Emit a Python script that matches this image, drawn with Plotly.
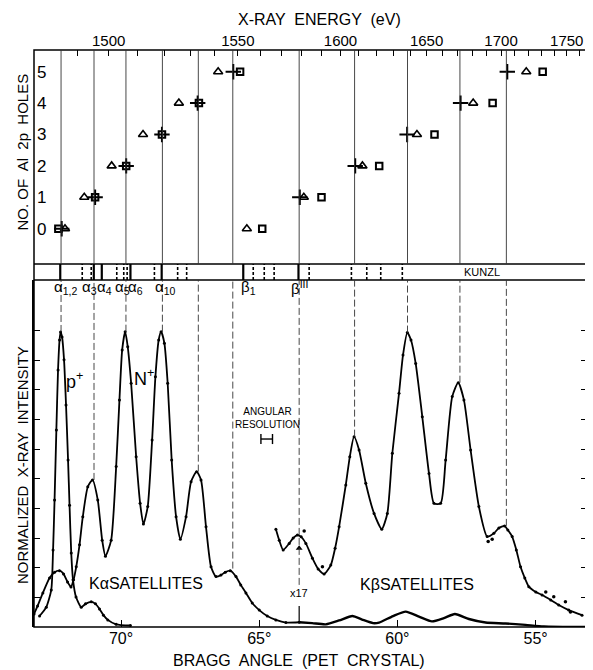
import numpy as np
import plotly.graph_objects as go

# ---------------- data ----------------
K_EV = 1413.5  # hc/2d (eV) for the PET crystal calibration used on the top axis

# Top panel: number of Al 2p holes vs X-ray energy (eV)
plus_holes = [0, 1, 2, 3, 4, 5, 1, 2, 3, 4, 5]
plus_E = [1485, 1495.5, 1506, 1519, 1533, 1548, 1579, 1608, 1638, 1672, 1704.5]
tri_holes = [0, 1, 2, 3, 4, 5, 0, 1, 2, 3, 4, 5]
tri_E = [1486, 1492, 1501, 1512, 1525.5, 1541.5, 1554, 1581, 1612, 1644, 1680.5, 1718.5]
sq_holes = [0, 1, 2, 3, 4, 5, 0, 1, 2, 3, 4, 5]
sq_E = [1484, 1495.5, 1506, 1519, 1533.5, 1551, 1561, 1590, 1621.5, 1655, 1694, 1731]

energy_ticks = list(range(1480, 1770, 10))
energy_labels = [1500, 1550, 1600, 1650, 1700, 1750]

# Bottom panel: Bragg angle (deg) vs normalized intensity
nplus_theta = [73.147, 73.020, 72.829, 72.587, 72.406, 72.225, 72.081, 71.936, 71.810, 71.720,
               71.622, 71.503, 71.384, 71.203, 71.033, 70.842, 70.683, 70.564, 70.358, 70.177,
               70.058, 69.960, 69.852, 69.758, 69.635, 69.454, 69.310, 69.191, 69.035, 68.876,
               68.757, 68.638, 68.551, 68.432, 68.313, 68.168, 68.009, 67.854, 67.648, 67.467,
               67.265, 67.106, 66.926, 66.745, 66.564, 66.384, 66.228, 66.048, 65.842, 65.668,
               65.481, 65.253, 65.000, 64.711, 64.397, 64.035, 63.555]
nplus_I = [0.44, 0.71, 1.15, 1.65, 1.85, 1.90, 1.79, 1.52, 1.35, 1.59,
           2.03, 2.77, 3.72, 4.73, 4.96, 4.28, 2.93, 2.39, 2.93, 5.41,
           7.66, 9.34, 9.96, 9.45, 8.22, 5.74, 4.17, 3.47, 4.06, 6.31,
           8.44, 9.68, 9.96, 9.57, 8.22, 5.63, 3.72, 2.96, 3.72, 4.90,
           5.24, 4.96, 3.38, 2.03, 1.70, 1.75, 1.85, 1.90, 1.70, 1.42,
           1.15, 0.81, 0.57, 0.37, 0.24, 0.15, 0.16]

kbeta_low_theta = [63.555, 63.085, 62.590, 62.110, 61.629, 61.279, 60.882, 60.665, 60.159,
                   59.700, 59.220, 58.750, 58.317, 57.920, 57.413, 56.810, 56.088, 55.365,
                   54.704, 53.187]
kbeta_low_I = [0.16, 0.13, 0.09, 0.22, 0.37, 0.25, 0.13, 0.15, 0.37,
               0.52, 0.35, 0.19, 0.30, 0.44, 0.27, 0.15, 0.12, 0.07,
               0.02, 0.0]

pplus_theta = [72.948, 72.706, 72.525, 72.460, 72.406, 72.341, 72.280, 72.225, 72.189, 72.135,
               72.063, 71.991, 71.918, 71.864, 71.803, 71.738, 71.629, 71.441, 71.286, 71.080,
               70.925, 70.780, 70.636, 70.480, 70.177, 69.660]
pplus_I = [0.37, 0.67, 1.25, 2.60, 4.28, 6.64, 8.67, 9.68, 9.95, 9.78,
           9.01, 7.49, 5.63, 4.11, 2.50, 1.59, 1.01, 0.67, 0.78, 0.85,
           0.78, 0.61, 0.40, 0.24, 0.09, 0.05]

x17_theta = [64.397, 64.277, 64.133, 63.916, 63.772, 63.617, 63.483, 63.313, 63.074, 62.869,
             62.652, 62.410, 62.254, 62.110, 61.868, 61.723, 61.568, 61.387, 61.145, 60.845,
             60.567, 60.365, 60.184, 59.942, 59.798, 59.642, 59.509, 59.339, 59.100, 58.858,
             58.678, 58.436, 58.255, 58.017, 57.800, 57.594, 57.352, 57.052, 56.752, 56.510,
             56.329, 56.123, 56.004, 55.848, 55.697, 55.545, 55.390, 55.245, 54.993, 54.765,
             54.451, 54.162, 53.801, 53.320]
x17_I = [3.30, 2.93, 2.60, 2.82, 3.00, 3.10, 3.04, 2.82, 2.32, 1.96,
         1.79, 2.09, 2.66, 3.38, 4.79, 5.74, 6.42, 5.97, 4.85, 3.83,
         3.30, 3.83, 5.86, 7.88, 9.17, 9.93, 9.68, 8.89, 7.09, 5.18,
         4.17, 4.17, 5.63, 7.77, 8.24, 7.66, 5.97, 4.06, 3.05, 3.16,
         3.34, 3.41, 3.27, 3.05, 2.60, 2.03, 1.65, 1.36, 1.18, 1.08,
         0.91, 0.74, 0.57, 0.40]

x17_scatter_theta = [63.374, 62.713, 56.716, 56.571, 54.632, 54.343, 53.921, 53.740]
x17_scatter_I = [3.24, 2.03, 2.88, 2.96, 1.18, 1.02, 0.85, 0.51]

# measured peak positions (vertical guide lines) and the height where they stop
peak_theta = [72.171, 70.979, 69.823, 68.504, 67.204, 65.957, 61.550, 59.635, 57.738, 56.058]
peak_stop_I = [9.95, 4.96, 9.96, 9.96, 5.24, 1.97, 6.42, 9.93, 8.24, 3.41]
x17_line_theta = 63.555

# Kunzl band: theoretical line positions
kunzl_solid = [72.200, 70.986, 70.697, 69.660, 68.530, 65.578, 63.580]
kunzl_dashed = [71.405, 71.080, 70.155, 69.902, 69.780, 68.793, 67.952, 67.626, 65.217,
                64.819, 64.461, 63.194, 61.665, 61.109, 60.603, 59.823]
band_label_text = ['α<sub>1,2</sub>', 'α<sub>3</sub>', 'α<sub>4</sub>', 'α<sub>5</sub>',
                   'α<sub>6</sub>', 'α<sub>10</sub>', 'β<sub>1</sub>', 'β<sup>III</sup>']
band_label_theta = [72.489, 71.503, 70.961, 70.300, 69.816, 68.855, 65.748, 63.916]

angle_ticks = [70, 65, 60, 55]

# ---------------- helpers ----------------
def e2theta(E):
    return np.degrees(np.arcsin(K_EV / np.asarray(E, dtype=float)))

FONT = "Liberation Sans"
X_RANGE = [73.15, 53.14]
Y_RANGE = [0, 11.703]
Y2_RANGE = [-1.124, 5.691]
BOT_TOP = 0.60139
BAND_TOP = 0.62912

fig = go.Figure()

# top panel markers
fig.add_trace(go.Scatter(x=e2theta(tri_E), y=tri_holes, xaxis='x2', yaxis='y2', mode='markers',
                         marker=dict(symbol='triangle-up-open', size=8, color='black',
                                     line=dict(width=1.6, color='black'))))
fig.add_trace(go.Scatter(x=e2theta(sq_E), y=sq_holes, xaxis='x2', yaxis='y2', mode='markers',
                         marker=dict(symbol='square-open', size=6.5, color='black',
                                     line=dict(width=2, color='black'))))
fig.add_trace(go.Scatter(x=e2theta(plus_E), y=plus_holes, xaxis='x2', yaxis='y2', mode='markers',
                         marker=dict(symbol='cross-thin', size=11, color='black',
                                     line=dict(width=2, color='black'))))

# bottom panel curves
fig.add_trace(go.Scatter(x=nplus_theta, y=nplus_I, mode='lines+markers',
                         line=dict(color='black', width=1.8, shape='spline', smoothing=0.6),
                         marker=dict(size=3, color='black')))
fig.add_trace(go.Scatter(x=kbeta_low_theta, y=kbeta_low_I, mode='lines',
                         line=dict(color='black', width=2.4, shape='spline', smoothing=0.6)))
fig.add_trace(go.Scatter(x=pplus_theta, y=pplus_I, mode='lines+markers',
                         line=dict(color='black', width=1.8, shape='spline', smoothing=0.6),
                         marker=dict(size=3, color='black')))
fig.add_trace(go.Scatter(x=x17_theta, y=x17_I, mode='lines+markers',
                         line=dict(color='black', width=1.8, shape='spline', smoothing=0.6),
                         marker=dict(size=3, color='black')))
fig.add_trace(go.Scatter(x=x17_scatter_theta, y=x17_scatter_I, mode='markers',
                         marker=dict(size=3.5, color='black')))
fig.add_trace(go.Scatter(x=[x17_line_theta], y=[2.66], mode='markers',
                         marker=dict(symbol='triangle-up', size=6, color='black')))

shapes = []
# frame and band
shapes.append(dict(type='rect', xref='paper', yref='paper', x0=0, x1=1, y0=0, y1=1,
                   line=dict(color='black', width=1.5)))
for yy in (BOT_TOP, BAND_TOP):
    shapes.append(dict(type='line', xref='paper', yref='paper', x0=0, x1=1, y0=yy, y1=yy,
                       line=dict(color='black', width=1.5)))
for t in kunzl_solid:
    shapes.append(dict(type='line', xref='x', yref='paper', x0=t, x1=t, y0=BOT_TOP, y1=BAND_TOP,
                       line=dict(color='black', width=2.2)))
for t in kunzl_dashed:
    shapes.append(dict(type='line', xref='x', yref='paper', x0=t, x1=t, y0=BOT_TOP, y1=BAND_TOP,
                       line=dict(color='black', width=1.6, dash='3px,2px')))
# guide lines in the top panel
for t in peak_theta + [x17_line_theta]:
    shapes.append(dict(type='line', xref='x2', yref='y2', x0=t, x1=t, y0=Y2_RANGE[0], y1=Y2_RANGE[1],
                       line=dict(color='#333', width=0.9)))
# guide lines in the bottom panel
for t, s in zip(peak_theta, peak_stop_I):
    shapes.append(dict(type='line', xref='x', yref='y', x0=t, x1=t, y0=s, y1=Y_RANGE[1],
                       line=dict(color='#333', width=0.9, dash='7px,3px')))
shapes.append(dict(type='line', xref='x', yref='y', x0=x17_line_theta, x1=x17_line_theta,
                   y0=1.42, y1=Y_RANGE[1], line=dict(color='#333', width=0.9, dash='7px,3px')))
shapes.append(dict(type='line', xref='x', yref='y', x0=x17_line_theta, x1=x17_line_theta,
                   y0=0.2, y1=0.71, line=dict(color='black', width=1.2)))
# angular resolution bar
res_x0, res_x1, res_y = 64.939, 64.520, 6.34
shapes.append(dict(type='line', xref='x', yref='y', x0=res_x0, x1=res_x1, y0=res_y, y1=res_y,
                   line=dict(color='black', width=1.4)))
for xx in (res_x0, res_x1):
    shapes.append(dict(type='line', xref='x', yref='y', x0=xx, x1=xx, y0=res_y - 0.17, y1=res_y + 0.17,
                       line=dict(color='black', width=1.4)))

ann = []
def A(text, x, y, xref='x', yref='y', size=16, **kw):
    d = dict(text=text, x=x, y=y, xref=xref, yref=yref, showarrow=False,
             xanchor='center', yanchor='middle',
             font=dict(family=FONT, size=size, color='black'))
    d.update(kw)
    ann.append(d)

A('X-RAY  ENERGY  (eV)', 0.516, 1.0537, 'paper', 'paper', size=16)
A('BRAGG  ANGLE  (PET  CRYSTAL)', 0.48, -0.0572, 'paper', 'paper', size=16)
A('NO. OF  Al  2p  HOLES', -0.0199, 0.824, 'paper', 'paper', size=15, textangle=-90)
A('NORMALIZED  X-RAY  INTENSITY', -0.0199, 0.2808, 'paper', 'paper', size=15, textangle=-90)
A('KUNZL', 56.932, 0.6153, 'x', 'paper', size=11)
for txt, t in zip(band_label_text, band_label_theta):
    A(txt, t, 0.589, 'x', 'paper', size=15, xanchor='left')
A('p<sup>+</sup>', 71.683, 8.33, size=18)
A('N<sup>+</sup>', 69.155, 8.40, size=18)
A('ANGULAR<br>RESOLUTION', 64.69, 7.05, size=10)
A('KαSATELLITES', 69.082, 1.48, size=16)
A('KβSATELLITES', 59.292, 1.42, size=16)
A('x17', 63.555, 1.15, size=11)

# the page body adds an 8 px offset, so margins are reduced by 8 px
fig.update_layout(
    template='none',
    width=585, height=662,
    margin=dict(l=26, r=6, t=42, b=43, autoexpand=False),
    paper_bgcolor='white', plot_bgcolor='white',
    showlegend=False,
    shapes=shapes, annotations=ann,
    xaxis=dict(domain=[0, 1], range=X_RANGE, anchor='y', tickvals=angle_ticks, automargin=False,
               ticktext=[f'{a}°' for a in angle_ticks], ticks='inside', ticklen=7, tickwidth=1.4,
               tickcolor='black', showgrid=False, zeroline=False, showline=False,
               tickfont=dict(family=FONT, size=16, color='black')),
    yaxis=dict(domain=[0, BOT_TOP], range=Y_RANGE, tickvals=list(range(1, 11)), ticks='inside',
               automargin=False,
               ticklen=6, tickwidth=1.2, tickcolor='black', showticklabels=False, showgrid=False,
               zeroline=False, showline=True, linecolor='black', linewidth=1.5, mirror='ticks'),
    xaxis2=dict(domain=[0, 1], matches='x', anchor='y2', side='top', automargin=False,
                tickvals=list(e2theta(energy_ticks)),
                ticktext=[str(e) if e in energy_labels else '' for e in energy_ticks],
                ticks='inside', ticklen=6, tickwidth=1.2, tickcolor='black', showgrid=False,
                zeroline=False, showline=False,
                tickfont=dict(family=FONT, size=15, color='black')),
    yaxis2=dict(domain=[BAND_TOP, 1], range=Y2_RANGE, anchor='x2', tickvals=list(range(0, 6)),
                automargin=False,
                ticks='', ticklabelposition='inside', showgrid=False, zeroline=False,
                showline=False, tickfont=dict(family=FONT, size=17, color='black')),
)

fig.write_html("out.html")
